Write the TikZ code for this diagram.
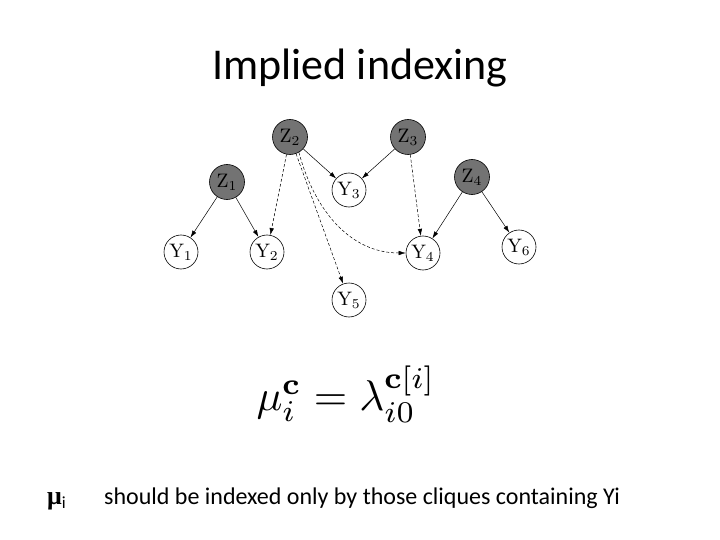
\documentclass[tikz,border=0pt]{standalone}
\usepackage{amsmath,amssymb,bm}
\usepackage[no-math]{fontspec}
\setmainfont{Carlito}
\newfontfamily\symfont{Liberation Serif}
\usetikzlibrary{arrows.meta}
\newcommand{\nlab}[1]{\scalebox{1.95}{$\mathrm{#1}$}}
\begin{document}
\begin{tikzpicture}[x=1pt,y=-1pt,
  latent/.style={circle,draw=black,line width=0.6pt,fill=black!55,minimum size=35pt,inner sep=0pt},
  obs/.style={circle,draw=black,line width=0.6pt,fill=white,minimum size=34pt,inner sep=0pt},
  arr/.style={-{Latex[length=7pt,width=4.5pt]},line width=0.5pt},
  darr/.style={arr,dash pattern=on 3pt off 2pt}]
\useasboundingbox (0,0) rectangle (720,540);
\node[font=\fontsize{44}{48}\selectfont] (title) at (360,68) {Implied indexing};
\node[latent] (Z2) at (290,137) {\nlab{Z_2}};
\node[latent] (Z3) at (408,137) {\nlab{Z_3}};
\node[latent] (Z1) at (227,182) {\nlab{Z_1}};
\node[latent] (Z4) at (472,177) {\nlab{Z_4}};
\node[obs] (Y3) at (349,190) {\nlab{Y_3}};
\node[obs] (Y1) at (181,252) {\nlab{Y_1}};
\node[obs] (Y2) at (267,252) {\nlab{Y_2}};
\node[obs] (Y4) at (423,253) {\nlab{Y_4}};
\node[obs] (Y6) at (519,247) {\nlab{Y_6}};
\node[obs] (Y5) at (349,300) {\nlab{Y_5}};
\draw[arr] (Z1) -- (Y1);
\draw[arr] (Z1) -- (Y2);
\draw[arr] (Z2) -- (Y3);
\draw[arr] (Z3) -- (Y3);
\draw[arr] (Z4) -- (Y4);
\draw[arr] (Z4) -- (Y6);
\draw[darr] (Z2) -- (Y2);
\draw[darr] (Z2) -- (Y5);
\draw[darr] (Z3) -- (Y4);
\draw[darr] (Z2.-60) to[out=-75,in=180] (Y4.west);
\node (eq) at (346,394) {\scalebox{4.3}{$\mu_i^{\mathbf{c}} = \lambda_{i0}^{\mathbf{c}[i]}$}};
\node[anchor=base west,inner sep=0pt] (mu) at (47,504) {{\symfont\bfseries\fontsize{26}{28}\selectfont μ}\raisebox{-4pt}{\fontsize{17}{17}\selectfont i}};
\node[anchor=base west,font=\fontsize{24}{28}\selectfont,inner sep=0pt] (txt) at (104,504) {should be indexed only by those cliques containing Yi};
\end{tikzpicture}
\end{document}
